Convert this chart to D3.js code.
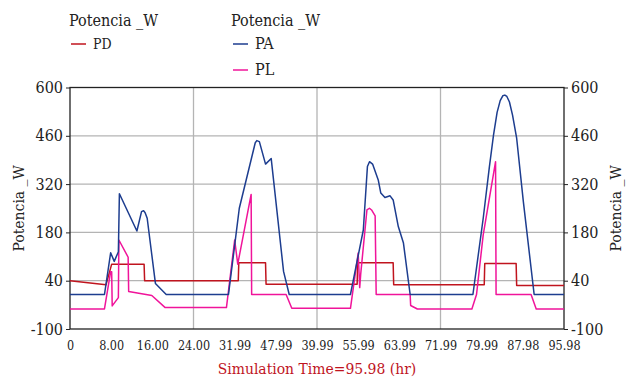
<!DOCTYPE html>
<html>
<head>
<meta charset="utf-8">
<script src="https://cdn.jsdelivr.net/npm/d3@7"></script>
<style>
  html, body { margin: 0; padding: 0; background: #fff; }
  svg { display: block; }
  svg text { font-family: "DejaVu Serif Condensed", "DejaVu Serif", serif !important; }
</style>
</head>
<body>
<div id="chart"></div>
<script>
// time axis (hours) and its printed labels, as in the original
const tickHours = [0, 8, 16, 24, 32, 40, 48, 56, 64, 72, 80, 88, 96];
const tickLabels = ["0", "8.00", "16.00", "24.00", "31.99", "47.99", "39.99", "55.99", "63.99", "71.99", "79.99", "87.98", "95.98"];
const gridHours = [24, 48, 72];
const yTicks = [600, 460, 320, 180, 40, -100];

// PD (red)
const pdTime  = [0, 7, 8.1, 14.4, 14.5, 32.7, 32.8, 38, 38.1, 55.8, 55.9, 62.8, 62.9, 80.5, 80.6, 86.7, 86.8, 96];
const pdValue = [40, 28, 88, 88, 40, 40, 92, 92, 30, 30, 92, 92, 28, 28, 90, 90, 26, 26];

// PA (blue)
const paTime  = [0, 6.7, 7.9, 8.6, 9.4, 9.6, 13.0, 13.9, 14.3, 14.6, 15.0, 16.6, 18.7,
                 30.8, 32.9, 36.0, 36.3, 36.8, 38.0, 39.1, 41.5, 42.6,
                 54.5, 57.0, 57.8, 58.2, 58.8, 59.9, 60.4, 61.2, 62.2, 62.8, 63.8, 64.8, 66.1,
                 78.3, 80.3, 81.5, 82.3, 83.0, 83.6, 84.1, 84.5, 84.9, 85.4, 86.0, 86.8, 88.1, 90.2, 96];
const paValue = [0, 0, 121, 96, 124, 292, 184, 240, 243, 237, 221, 32, 0,
                 0, 250, 440, 446, 443, 378, 394, 67, 0,
                 0, 187, 371, 385, 378, 332, 294, 281, 286, 274, 197, 149, 0,
                 0, 221, 370, 462, 528, 562, 576, 578, 574, 558, 520, 453, 269, 0, 0];

// PL (pink)
const plTime  = [0, 6.7, 7.9, 8.1, 8.2, 9.4, 9.5, 11.3, 11.4, 15.9, 18.5,
                 30.4, 32.0, 32.6, 35.2, 35.3, 42.0, 43.1,
                 54.5, 56.0, 56.3, 56.5, 57.7, 58.2, 58.6, 59.3, 59.5, 66.1, 66.2, 67.5,
                 78.1, 79.0, 80.3, 82.7, 82.8, 89.6, 90.6, 96];
const plValue = [-42, -42, 66, 66, -33, -9, 158, 108, 9, -3, -38,
                 -38, 158, 88, 290, 0, 0, -40,
                 -40, 120, 20, 60, 245, 250, 245, 228, 0, 0, -32, -42,
                 -42, 0, 173, 385, 0, 0, -42, -42];

const W = 626, H = 379;
const margin = { top: 87.5, right: 62, bottom: 50, left: 70 };
const plotW = W - margin.left - margin.right;
const plotH = 241.5;

const svg = d3.select("#chart").append("svg").attr("width", W).attr("height", H);
const g = svg.append("g").attr("transform", `translate(${margin.left},${margin.top})`);

const x = d3.scaleLinear().domain([0, 96]).range([0, plotW]);
const y = d3.scaleLinear().domain([-100, 600]).range([plotH, 0]);

// grid
g.selectAll(".hgrid").data(yTicks.filter(d => d !== 600 && d !== -100)).join("line")
  .attr("x1", 0).attr("x2", plotW)
  .attr("y1", d => y(d)).attr("y2", d => y(d))
  .attr("stroke", "#b4b4b4").attr("stroke-width", 1.3);
g.selectAll(".vgrid").data(gridHours).join("line")
  .attr("x1", d => x(d)).attr("x2", d => x(d))
  .attr("y1", 0).attr("y2", plotH)
  .attr("stroke", "#b4b4b4").attr("stroke-width", 1.3);

// frame
g.append("rect").attr("width", plotW).attr("height", plotH)
  .attr("fill", "none").attr("stroke", "#222").attr("stroke-width", 1.3);

// axes
const leftAxis = g.append("g").call(d3.axisLeft(y).tickValues(yTicks).tickSize(4).tickFormat(d => String(d)));
const rightAxis = g.append("g").attr("transform", `translate(${plotW},0)`)
  .call(d3.axisRight(y).tickValues(yTicks).tickSize(4).tickFormat(d => String(d)));
const bottomAxis = g.append("g").attr("transform", `translate(0,${plotH})`)
  .call(d3.axisBottom(x).tickValues(tickHours).tickSize(0).tickPadding(12)
    .tickFormat((d, i) => tickLabels[i]));

[leftAxis, rightAxis].forEach(a => {
  a.select(".domain").remove();
  a.selectAll("line").attr("stroke", "#222");
  a.selectAll("text").attr("font-size", 16).attr("fill", "#222");
});
leftAxis.selectAll("text").attr("x", -7);
rightAxis.selectAll("text").attr("x", 7);
bottomAxis.select(".domain").remove();
bottomAxis.selectAll("text").attr("font-size", 12.5).attr("fill", "#222");

// axis titles
svg.append("text").attr("transform", `translate(24,${margin.top + plotH / 2}) rotate(-90)`)
  .attr("text-anchor", "middle").attr("font-size", 15.5).attr("fill", "#222").text("Potencia _W");
svg.append("text").attr("transform", `translate(621,${margin.top + plotH / 2}) rotate(-90)`)
  .attr("text-anchor", "middle").attr("font-size", 15.5).attr("fill", "#222").text("Potencia _W");
svg.append("text").attr("x", margin.left + plotW / 2).attr("y", 374)
  .attr("text-anchor", "middle").attr("font-size", 15.5).attr("fill", "#c0141e")
  .text("Simulation Time=95.98 (hr)");

// series
const series = [
  { name: "PD", time: pdTime, value: pdValue, color: "#c0141e" },
  { name: "PL", time: plTime, value: plValue, color: "#f0149a" },
  { name: "PA", time: paTime, value: paValue, color: "#1d3d8f" }
];
const line = d3.line().x(d => x(d[0])).y(d => y(d[1]));
series.forEach(s => {
  g.append("path")
    .datum(s.time.map((t, i) => [t, s.value[i]]))
    .attr("fill", "none").attr("stroke", s.color).attr("stroke-width", 1.5)
    .attr("stroke-linejoin", "round")
    .attr("d", line);
});

// legends
const legends = [
  { x: 69, title: "Potencia _W", items: [{ name: "PD", color: "#c0141e", size: 14 }] },
  { x: 231, title: "Potencia _W", items: [{ name: "PA", color: "#1d3d8f", size: 16 }, { name: "PL", color: "#f0149a", size: 16 }] }
];
legends.forEach(L => {
  const lg = svg.append("g").attr("transform", `translate(${L.x},0)`);
  lg.append("text").attr("x", 0).attr("y", 26).attr("font-size", 16).attr("fill", "#222").text(L.title);
  L.items.forEach((it, i) => {
    const yy = 44 + i * 26;
    lg.append("line").attr("x1", 2).attr("x2", 17).attr("y1", yy).attr("y2", yy)
      .attr("stroke", it.color).attr("stroke-width", 1.5);
    lg.append("text").attr("x", 24).attr("y", yy + 5).attr("font-size", it.size).attr("fill", "#222").text(it.name);
  });
});
</script>
</body>
</html>
